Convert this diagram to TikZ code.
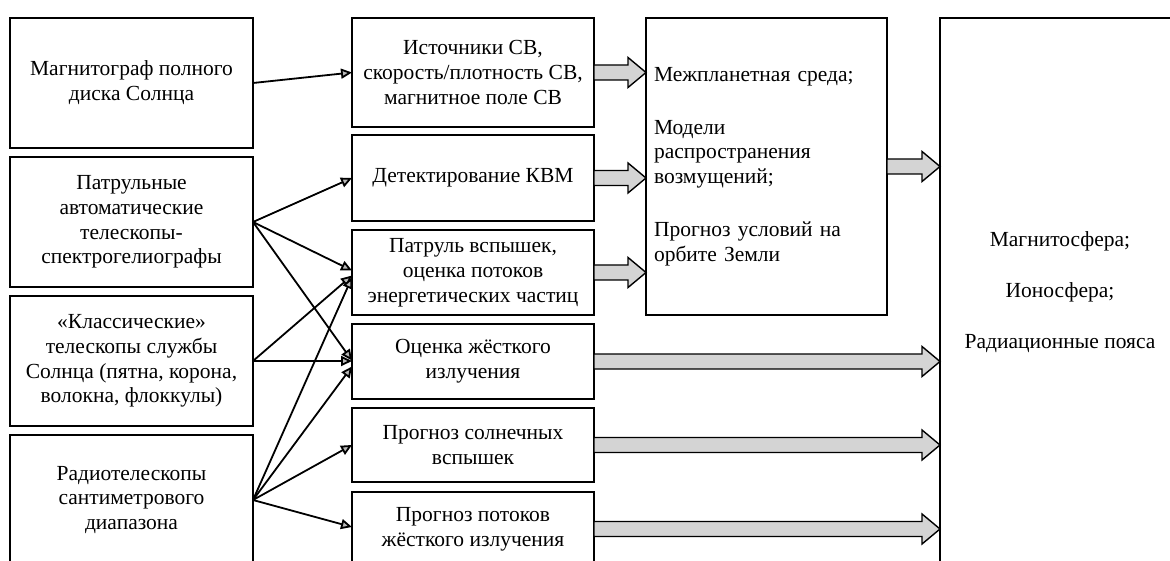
\documentclass[tikz,border=0pt]{standalone}
\usepackage{fontspec}
\setmainfont{Liberation Serif}
\usepackage{tikz}
\usetikzlibrary{positioning,calc,arrows.meta}

\begin{document}
\begin{tikzpicture}[x=1pt,y=-1pt,
  every node/.style={font=\fontsize{21.5}{24.8}\selectfont},
  box/.style={rectangle,draw,line width=2.2pt,align=center,inner sep=0pt,outer sep=0pt},
  source/.style={box,minimum width=243pt,minimum height=130pt},
  task/.style={box,minimum width=242pt},
  thin/.style={line width=1.8pt,-{Triangle[length=11pt,width=10pt,fill=gray!55]}},
  fat/.style={draw=black,line width=1.4pt,fill=black!17,
    to path={let \p1=(\tikztostart), \p2=(\tikztotarget) in
      (\x1,\y1+7.5pt) -- (\x2-18pt,\y1+7.5pt) -- (\x2-18pt,\y1+15pt) -- (\x2,\y1)
      -- (\x2-18pt,\y1-15pt) -- (\x2-18pt,\y1-7.5pt) -- (\x1,\y1-7.5pt) -- cycle}},
]
\useasboundingbox (0,0) rectangle (1170,561);
\clip (0,0) rectangle (1170,561);

% instruments
\node (magneto) [source,anchor=north west] at (10,18) {Магнитограф полного\\диска Солнца};
\node (patrol) [source,below=9pt of magneto] {Патрульные\\автоматические\\телескопы-\\спектрогелиографы};
\node (classic) [source,below=9pt of patrol] {«Классические»\\телескопы службы\\Солнца (пятна, корона,\\волокна, флоккулы)};
\node (radio) [source,below=9pt of classic] {Радиотелескопы\\сантиметрового\\диапазона};

% products
\node (wind) [task,minimum height=109pt,right=99pt of magneto.north east,anchor=north west] {Источники СВ,\\скорость/плотность СВ,\\магнитное поле СВ};
\node (cme) [task,minimum height=86pt,below=8pt of wind] {Детектирование КВМ};
\node (flares) [task,minimum height=85pt,below=9pt of cme] {Патруль вспышек,\\оценка потоков\\энергетических частиц};
\node (hard) [task,minimum height=75pt,below=9pt of flares] {Оценка жёсткого\\излучения};
\node (fcast) [task,minimum height=74pt,below=9pt of hard] {Прогноз солнечных\\вспышек};
\node (fluxes) [task,minimum height=74pt,below=10pt of fcast] {Прогноз потоков\\жёсткого излучения};

% models
\node (medium) [box,align=left,text width=225pt,minimum width=241pt,minimum height=297pt,
  right=52pt of wind.north east,anchor=north west] {Межпланетная среда;\\[28pt]Модели\\распространения\\возмущений;\\[28pt]Прогноз условий на\\орбите Земли};
\node (earth) [box,minimum width=240pt,minimum height=548pt,
  right=53pt of medium.north east,anchor=north west] {Магнитосфера;\\[26pt]Ионосфера;\\[26pt]Радиационные пояса};

% thin connectors
\draw[thin] (magneto.east) -- (wind.west);
\draw[thin] (patrol.east) -- (cme.west);
\draw[thin] (patrol.east) -- ([yshift=2pt]flares.west);
\draw[thin] (patrol.east) -- ([yshift=1pt]hard.west);
\draw[thin] (classic.east) -- ([yshift=-3pt]flares.west);
\draw[thin] (classic.east) -- (classic.east -| hard.west);
\draw[thin] (radio.east) -- ([yshift=-5pt]flares.west);
\draw[thin] (radio.east) -- ([yshift=-5pt]hard.west);
\draw[thin] (radio.east) -- (fcast.west);
\draw[thin] (radio.east) -- ([yshift=2pt]fluxes.west);

% fat connectors
\draw[fat] (wind.east) to (wind.east -| medium.west);
\draw[fat] (cme.east) to (cme.east -| medium.west);
\draw[fat] (flares.east) to (flares.east -| medium.west);
\draw[fat] (medium.east) to (medium.east -| earth.west);
\draw[fat] (hard.east) to (hard.east -| earth.west);
\draw[fat] (fcast.east) to (fcast.east -| earth.west);
\draw[fat] (fluxes.east) to (fluxes.east -| earth.west);
\end{tikzpicture}
\end{document}
